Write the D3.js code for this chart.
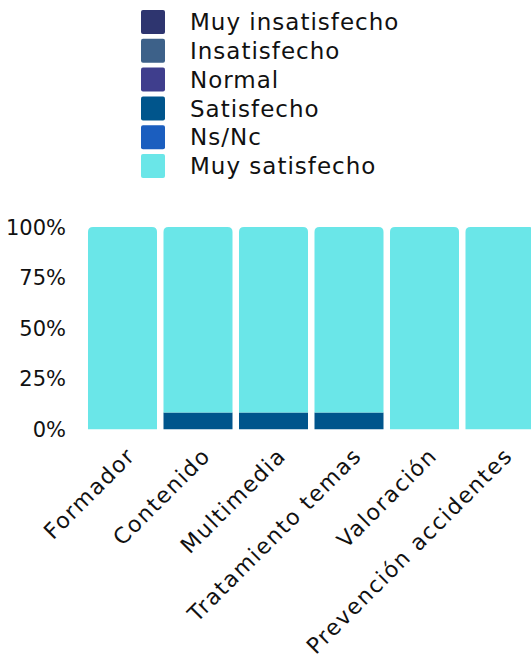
<!DOCTYPE html>
<html>
<head>
<meta charset="utf-8">
<script src="https://cdn.jsdelivr.net/npm/d3@7"></script>
<style>
  body { margin: 0; background: #fff; }
  svg { display: block; font-family: "DejaVu Sans", sans-serif; }
</style>
</head>
<body>
<div id="chart"></div>
<script>
// categories (x axis)
var categories = ['Formador', 'Contenido', 'Multimedia', 'Tratamiento temas', 'Valoración', 'Prevención accidentes'];

// series, in stacking order (bottom to top)
var seriesNames = ['Muy insatisfecho', 'Insatisfecho', 'Normal', 'Satisfecho', 'Ns/Nc', 'Muy satisfecho'];
var seriesColors = ['#2e356f', '#3d6189', '#3f3e8d', '#00558c', '#1b5ebf', '#6ae6e8'];

// percent per category
var muyInsatisfecho = [0, 0, 0, 0, 0, 0];
var insatisfecho    = [0, 0, 0, 0, 0, 0];
var normal          = [0, 0, 0, 0, 0, 0];
var satisfecho      = [0, 8.3, 8.3, 8.3, 0, 0];
var nsnc            = [0, 0, 0, 0, 0, 0];
var muySatisfecho   = [100, 91.7, 91.7, 91.7, 100, 100];

var yTicks = [0, 25, 50, 75, 100];

var width = 531, height = 667;

var svg = d3.select('#chart').append('svg')
  .attr('width', width)
  .attr('height', height);

//---------------- table for the stack
var values = [muyInsatisfecho, insatisfecho, normal, satisfecho, nsnc, muySatisfecho];
var rows = categories.map(function (c, i) {
  var r = { cat: c };
  seriesNames.forEach(function (s, j) { r[s] = values[j][i]; });
  return r;
});
var stacked = d3.stack().keys(seriesNames)(rows);

//---------------- scales
var x = d3.scaleBand()
  .domain(categories)
  .range([84.75, 537.75])
  .paddingInner(0.086)
  .paddingOuter(0.043);

var y = d3.scaleLinear()
  .domain([0, 100])
  .range([429.3, 227]);

//---------------- bars
// top segment of each stack gets rounded top corners
function topKey(i) {
  var last = null;
  seriesNames.forEach(function (s, j) { if (values[j][i] > 0) last = j; });
  return last;
}

function barPath(x0, y0, w, h, r) {
  r = Math.min(r, h / 2, w / 2);
  return 'M' + x0 + ',' + (y0 + h) +
    'V' + (y0 + r) +
    'Q' + x0 + ',' + y0 + ' ' + (x0 + r) + ',' + y0 +
    'H' + (x0 + w - r) +
    'Q' + (x0 + w) + ',' + y0 + ' ' + (x0 + w) + ',' + (y0 + r) +
    'V' + (y0 + h) + 'Z';
}

var groups = svg.append('g').selectAll('g')
  .data(stacked)
  .enter().append('g')
  .attr('fill', function (d, j) { return seriesColors[j]; });

groups.selectAll('path')
  .data(function (d, j) { return d.map(function (p, i) { return { p: p, i: i, j: j }; }); })
  .enter().append('path')
  .filter(function (d) { return d.p[1] - d.p[0] > 0; })
  .attr('d', function (d) {
    var x0 = x(categories[d.i]);
    var y0 = y(d.p[1]);
    var h = y(d.p[0]) - y(d.p[1]);
    var r = topKey(d.i) === d.j ? 5 : 0;
    return barPath(x0, y0, x.bandwidth(), h, r);
  });

//---------------- y axis (labels only)
svg.append('g').selectAll('text')
  .data(yTicks)
  .enter().append('text')
  .attr('x', 66)
  .attr('y', function (d) { return y(d); })
  .attr('dy', '0.36em')
  .attr('text-anchor', 'end')
  .attr('font-size', 21)
  .attr('fill', '#111')
  .text(function (d) { return d + '%'; });

//---------------- x axis labels
svg.append('g').selectAll('text')
  .data(categories)
  .enter().append('text')
  .attr('transform', function (d) {
    return 'translate(' + (x(d) + x.bandwidth() / 2 + 14) + ',457) rotate(-45)';
  })
  .attr('text-anchor', 'end')
  .attr('font-size', 22)
  .attr('letter-spacing', 1.6)
  .attr('fill', '#111')
  .text(function (d) { return d; });

//---------------- legend
var legend = svg.append('g').selectAll('g')
  .data(seriesNames)
  .enter().append('g')
  .attr('transform', function (d, i) { return 'translate(141,' + (10 + i * 28.8) + ')'; });

legend.append('rect')
  .attr('width', 24)
  .attr('height', 24)
  .attr('rx', 2)
  .attr('fill', function (d, i) { return seriesColors[i]; });

legend.append('text')
  .attr('x', 49)
  .attr('y', 12)
  .attr('dy', '0.36em')
  .attr('font-size', 23)
  .attr('letter-spacing', 1)
  .attr('fill', '#111')
  .text(function (d) { return d; });
</script>
</body>
</html>
